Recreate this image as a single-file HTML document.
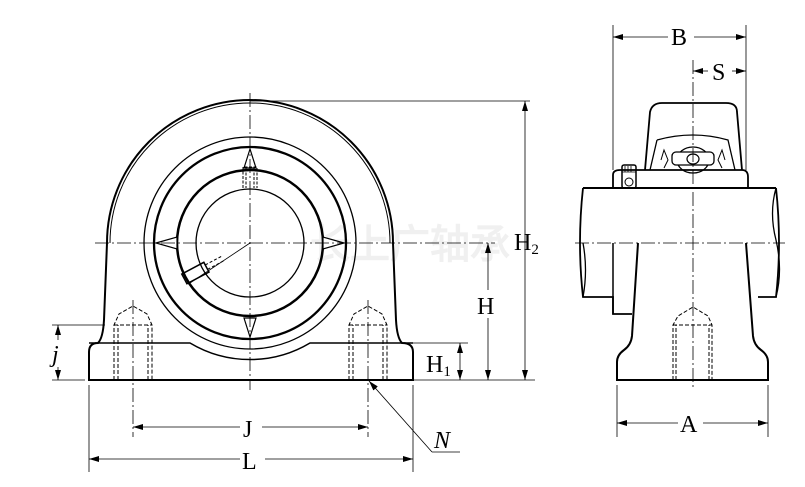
<!DOCTYPE html>
<html><head><style>
html,body{margin:0;padding:0;background:#fff;}
svg{display:block;}
text{font-family:"Liberation Serif",serif;fill:#000;}
</style></head><body>
<svg width="805" height="487" viewBox="0 0 805 487" xmlns="http://www.w3.org/2000/svg">
<defs>
<marker id="a" viewBox="0 0 10 6" refX="10" refY="3" markerWidth="10" markerHeight="6" orient="auto-start-reverse" markerUnits="userSpaceOnUse"><path d="M0,0L10,3L0,6z" fill="#000"/></marker>
</defs>
<text x="310" y="258" font-size="40" font-family="Noto Sans CJK SC,sans-serif" font-weight="bold" style="fill:#f0f0f0">长上广轴承</text>
<g fill="none" stroke="#000">
<path d="M89,380 L89,352 Q89,343 98,343 Q103,338 104,320 L107,243 A143,143 0 0 1 393,243 L396,320 Q397,338 402,343 Q413,343 413,352 L413,380 Z" stroke-width="2"/>
<path d="M110,243 A140,140 0 0 1 390,243" stroke-width="1"/>
<path d="M89,343 L190,343 A117,117 0 0 0 310,343 L413,343" stroke-width="1.5"/>
<circle cx="250" cy="243" r="106" stroke-width="1.3"/>
<circle cx="250" cy="243" r="96" stroke-width="2.3"/>
<circle cx="250" cy="243" r="73" stroke-width="2.5"/>
<circle cx="250" cy="243" r="54" stroke-width="1.3"/>
<path d="M250,149 L244,168 L256,168Z M250,337 L244,318 L256,318Z M156,243 L177,237 L177,249Z M344,243 L323,237 L323,249Z" stroke-width="1.2" fill="#fff"/>
<path d="M243,188 L243,167 L257,167 L257,188 M246,168 L246,188 M254,168 L254,188" stroke-width="1" stroke-dasharray="3,1.5"/>
<g transform="rotate(-28 200 270)"><rect x="182" y="265" width="25" height="11" stroke-width="1.5"/><path d="M207,268 L225,268 M207,273 L225,273" stroke-dasharray="3,2"/></g>
<line x1="190" y1="283" x2="250" y2="243" stroke-width="0.8"/>
<g stroke-width="1" stroke-dasharray="4,2">
<path d="M114,380 L114,325 L119,314 L133,306 L147,314 L152,325 L152,380 M118,380 L118,325 M148,380 L148,325 M114,325 L152,325"/>
<path d="M349,380 L349,325 L354,314 L368,306 L382,314 L387,325 L387,380 M353,380 L353,325 M383,380 L383,325 M349,325 L387,325"/>
</g>
<g stroke-width="0.8" stroke-dasharray="14,3,2,3">
<line x1="250" y1="93" x2="250" y2="390"/>
<line x1="95" y1="243" x2="495" y2="243"/>
<line x1="133" y1="300" x2="133" y2="437"/>
<line x1="368" y1="300" x2="368" y2="437"/>
</g>

<path d="M583,188 L776,188" stroke-width="2"/>
<path d="M583,188 Q577,243 583,297 L613,297 L613,314 L632,314 M776,188 Q782,243 776,297 L758,297" stroke-width="1.8"/>
<path d="M776,188 Q769,213 776,240 Q783,270 776,297" stroke-width="1.3"/>
<path d="M583,243 Q588,270 583,297" stroke-width="1.3"/>
<path d="M613,243 L613,314" stroke-width="1.5"/>
<path d="M638,243 L632,336 Q631,345 624,350 Q617,355 617,362 L617,380 L768,380 L768,362 Q768,355 761,350 Q754,345 753,336 L746,243" stroke-width="2"/>
<path d="M613,188 L613,175 Q613,170 620,170 L742,170 Q748,170 748,177 L748,188" stroke-width="1.8"/>
<path d="M645,170 L650,112 Q652,103 662,103 L726,103 Q737,103 737,112 L742,170" stroke-width="1.8"/>
<path d="M657,140 Q693,130 728,140 L735,170 M657,140 L650,170" stroke-width="1.3"/>
<ellipse cx="693" cy="160" rx="16" ry="13" stroke-width="1.3"/>
<rect x="672" y="152" width="42" height="13" rx="4" fill="#fff" stroke-width="1.3"/>
<ellipse cx="693" cy="159" rx="6" ry="5" stroke-width="1.2"/>
<path d="M661,160 L664,150 L668,160 L664,168 M725,160 L722,150 L718,160 L722,168" stroke-width="1"/>
<rect x="622" y="165" width="14" height="23" rx="2" stroke-width="1.5"/>
<path d="M625,166 L625,172 M628,166 L628,172 M631,166 L631,172 M622,172 L636,172" stroke-width="0.8"/>
<circle cx="629" cy="182" r="4" stroke-width="1"/>
<g stroke-width="1" stroke-dasharray="4,2">
<path d="M673,380 L673,325 L678,316 L693,307 L708,316 L712,325 L712,380 M676,380 L676,325 M709,380 L709,325 M673,325 L712,325"/>
</g>
<g stroke-width="0.8" stroke-dasharray="14,3,2,3">
<line x1="693" y1="60" x2="693" y2="390"/>
<line x1="575" y1="243" x2="785" y2="243"/>
</g>

<g stroke-width="0.8">
<line x1="250" y1="101" x2="530" y2="101"/>
<line x1="413" y1="380" x2="535" y2="380"/>
<line x1="396" y1="343" x2="468" y2="343"/>
<line x1="52" y1="325" x2="105" y2="325"/>
<line x1="52" y1="380" x2="85" y2="380"/>
<line x1="89" y1="385" x2="89" y2="472"/>
<line x1="413" y1="385" x2="413" y2="472"/>
<line x1="613" y1="25" x2="613" y2="170"/>
<line x1="746" y1="25" x2="746" y2="170"/>
<line x1="617" y1="385" x2="617" y2="437"/>
<line x1="768" y1="385" x2="768" y2="437"/>
<line x1="525" y1="101" x2="525" y2="380" marker-start="url(#a)" marker-end="url(#a)"/>
<line x1="488" y1="243" x2="488" y2="290" marker-start="url(#a)"/>
<line x1="488" y1="318" x2="488" y2="380" marker-end="url(#a)"/>
<line x1="460" y1="343" x2="460" y2="380" marker-start="url(#a)" marker-end="url(#a)"/>
<line x1="58" y1="325" x2="58" y2="340" marker-start="url(#a)"/>
<line x1="58" y1="367" x2="58" y2="380" marker-end="url(#a)"/>
<line x1="133" y1="427" x2="240" y2="427" marker-start="url(#a)"/>
<line x1="262" y1="427" x2="368" y2="427" marker-end="url(#a)"/>
<line x1="89" y1="459" x2="240" y2="459" marker-start="url(#a)"/>
<line x1="265" y1="459" x2="413" y2="459" marker-end="url(#a)"/>
<line x1="613" y1="37" x2="668" y2="37" marker-start="url(#a)"/>
<line x1="694" y1="37" x2="746" y2="37" marker-end="url(#a)"/>
<line x1="693" y1="71" x2="708" y2="71" marker-start="url(#a)"/>
<line x1="732" y1="71" x2="746" y2="71" marker-end="url(#a)"/>
<line x1="617" y1="423" x2="678" y2="423" marker-start="url(#a)"/>
<line x1="703" y1="423" x2="768" y2="423" marker-end="url(#a)"/>
<line x1="432" y1="452" x2="369" y2="381" marker-end="url(#a)"/>
<line x1="432" y1="452" x2="460" y2="452"/>
</g>
</g>
<text x="514" y="250" font-size="24">H<tspan font-size="15" dy="4">2</tspan></text>
<text x="477" y="314" font-size="24">H</text>
<text x="426" y="372" font-size="24">H<tspan font-size="15" dy="4">1</tspan></text>
<text x="52" y="362" font-size="24" font-style="italic">j</text>
<text x="243" y="437" font-size="24">J</text>
<text x="242" y="469" font-size="24">L</text>
<text x="434" y="448" font-size="24" font-style="italic">N</text>
<text x="671" y="45" font-size="24">B</text>
<text x="712" y="80" font-size="24">S</text>
<text x="680" y="432" font-size="24">A</text>
</svg>
</body></html>
